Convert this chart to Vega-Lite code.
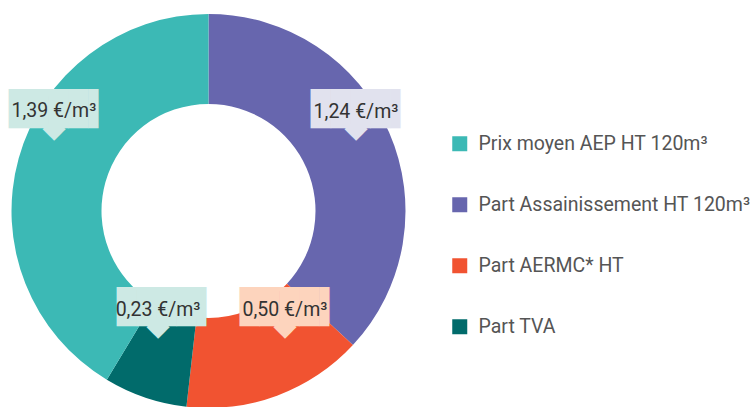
{
  "$schema": "https://vega.github.io/schema/vega-lite/v6.json",
  "width": 417,
  "height": 422,
  "padding": 0,
  "background": "white",
  "config": {
    "view": {"stroke": null},
    "locale": {"number": {"decimal": ",", "thousands": " ", "grouping": [3], "currency": ["", " €/m³"]}}
  },
  "data": {
    "values": [
      {"poste": "Part Assainissement HT 120m³", "valeur": 1.24, "rang": 1},
      {"poste": "Part AERMC* HT", "valeur": 0.50, "rang": 2},
      {"poste": "Part TVA", "valeur": 0.23, "rang": 3},
      {"poste": "Prix moyen AEP HT 120m³", "valeur": 1.39, "rang": 4}
    ]
  },
  "encoding": {
    "theta": {"field": "valeur", "type": "quantitative", "stack": true},
    "order": {"field": "rang", "type": "quantitative", "sort": "ascending"}
  },
  "layer": [
    {
      "mark": {"type": "arc", "outerRadius": 197, "innerRadius": 107},
      "encoding": {
        "color": {
          "field": "poste",
          "type": "nominal",
          "scale": {
            "domain": ["Prix moyen AEP HT 120m³", "Part Assainissement HT 120m³", "Part AERMC* HT", "Part TVA"],
            "range": ["#3cb9b5", "#6766ae", "#f15331", "#016b6b"]
          },
          "legend": {
            "title": null,
            "orient": "none",
            "legendX": 450,
            "legendY": 134,
            "symbolType": "square",
            "symbolSize": 225,
            "symbolStrokeWidth": 0,
            "symbolOpacity": 1,
            "labelFont": "Roboto",
            "labelFontSize": 19.5,
            "labelColor": "#555555",
            "labelOffset": 9,
            "labelLimit": 400,
            "rowPadding": 40,
            "padding": 0
          }
        }
      }
    },
    {"mark": {"type": "text", "radius": 152, "font": "DejaVu Sans", "fontSize": 30, "color": "#e1e2ee", "align": "center", "baseline": "middle", "dx": 8.2, "dy": -22.2},
     "encoding": {"detail": {"field": "poste"}, "text": {"condition": {"test": "datum.rang === 1", "value": "◆"}, "value": ""}}},
    {"mark": {"type": "text", "radius": 152, "font": "DejaVu Sans Mono", "fontSize": 33, "color": "#e1e2ee", "align": "left", "baseline": "alphabetic", "dx": -36.8, "dy": -30.0},
     "encoding": {"detail": {"field": "poste"}, "text": {"condition": {"test": "datum.rang === 1", "value": "████▌"}, "value": ""}}},
    {"mark": {"type": "text", "radius": 152, "font": "Roboto", "fontSize": 19.5, "color": "#333333", "align": "center", "baseline": "middle", "dx": 8.2, "dy": -38.7},
     "encoding": {"detail": {"field": "poste"}, "text": {"field": "valeur", "type": "quantitative", "format": "$.2f", "condition": {"test": "datum.rang !== 1", "value": ""}}}},

    {"mark": {"type": "text", "radius": 152, "font": "DejaVu Sans", "fontSize": 30, "color": "#fdd4bd", "align": "center", "baseline": "middle", "dx": 23.6, "dy": -27.5},
     "encoding": {"detail": {"field": "poste"}, "text": {"condition": {"test": "datum.rang === 2", "value": "◆"}, "value": ""}}},
    {"mark": {"type": "text", "radius": 152, "font": "DejaVu Sans Mono", "fontSize": 33, "color": "#fdd4bd", "align": "left", "baseline": "alphabetic", "dx": -21.4, "dy": -35.3},
     "encoding": {"detail": {"field": "poste"}, "text": {"condition": {"test": "datum.rang === 2", "value": "████▌"}, "value": ""}}},
    {"mark": {"type": "text", "radius": 152, "font": "Roboto", "fontSize": 19.5, "color": "#333333", "align": "center", "baseline": "middle", "dx": 23.6, "dy": -44.0},
     "encoding": {"detail": {"field": "poste"}, "text": {"field": "valeur", "type": "quantitative", "format": "$.2f", "condition": {"test": "datum.rang !== 2", "value": ""}}}},

    {"mark": {"type": "text", "radius": 152, "font": "DejaVu Sans", "fontSize": 30, "color": "#cde9e4", "align": "center", "baseline": "middle", "dx": -1.6, "dy": -28.9},
     "encoding": {"detail": {"field": "poste"}, "text": {"condition": {"test": "datum.rang === 3", "value": "◆"}, "value": ""}}},
    {"mark": {"type": "text", "radius": 152, "font": "DejaVu Sans Mono", "fontSize": 33, "color": "#cde9e4", "align": "left", "baseline": "alphabetic", "dx": -42.6, "dy": -36.7},
     "encoding": {"detail": {"field": "poste"}, "text": {"condition": {"test": "datum.rang === 3", "value": "████▌"}, "value": ""}}},
    {"mark": {"type": "text", "radius": 152, "font": "Roboto", "fontSize": 19.5, "color": "#333333", "align": "center", "baseline": "middle", "dx": -1.6, "dy": -45.4},
     "encoding": {"detail": {"field": "poste"}, "text": {"field": "valeur", "type": "quantitative", "format": "$.2f", "condition": {"test": "datum.rang !== 3", "value": ""}}}},

    {"mark": {"type": "text", "radius": 152, "font": "DejaVu Sans", "fontSize": 30, "color": "#cde9e4", "align": "center", "baseline": "middle", "dx": -8.1, "dy": -42.3},
     "encoding": {"detail": {"field": "poste"}, "text": {"condition": {"test": "datum.rang === 4", "value": "◆"}, "value": ""}}},
    {"mark": {"type": "text", "radius": 152, "font": "DejaVu Sans Mono", "fontSize": 33, "color": "#cde9e4", "align": "left", "baseline": "alphabetic", "dx": -53.1, "dy": -50.1},
     "encoding": {"detail": {"field": "poste"}, "text": {"condition": {"test": "datum.rang === 4", "value": "████▌"}, "value": ""}}},
    {"mark": {"type": "text", "radius": 152, "font": "Roboto", "fontSize": 19.5, "color": "#333333", "align": "center", "baseline": "middle", "dx": -8.1, "dy": -58.8},
     "encoding": {"detail": {"field": "poste"}, "text": {"field": "valeur", "type": "quantitative", "format": "$.2f", "condition": {"test": "datum.rang !== 4", "value": ""}}}}
  ]
}
